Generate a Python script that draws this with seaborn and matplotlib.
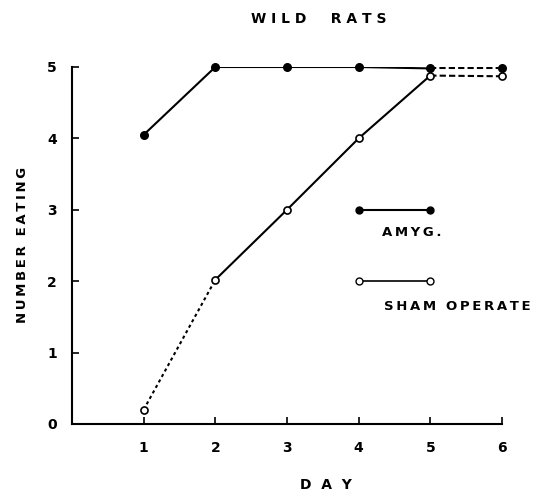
import matplotlib
matplotlib.use("Agg")
import matplotlib.pyplot as plt
import seaborn as sns
import pandas as pd

days = [1, 2, 3, 4, 5, 6]
amyg = [4.05, 5.0, 5.0, 5.0, 4.98, 4.98]
sham = [0.2, 2.02, 3.0, 4.0, 4.88, 4.87]
y_ticks = [0, 1, 2, 3, 4, 5]

sns.set_theme(style="ticks")
plt.rcParams['font.family'] = ['DejaVu Sans']
plt.rcParams['text.color'] = 'black'

fig = plt.figure(figsize=(5.47, 4.97), dpi=100)
ax = fig.add_axes([0.1316, 0.1469, 0.786, 0.7183])

df = pd.DataFrame({"day": days, "amyg": amyg, "sham": sham})

def seg(col, i0, i1, ls, lw=1.5):
    sub = df.iloc[i0:i1 + 1]
    sns.lineplot(data=sub, x="day", y=col, ax=ax, color="black", lw=lw,
                 linestyle=ls, estimator=None, sort=False, legend=False)

# AMYG: solid 1-5, dashed 5-6
seg("amyg", 0, 4, "-")
seg("amyg", 4, 5, (0, (3, 1.5)))
# SHAM: dotted 1-2, solid 2-5, dashed 5-6
seg("sham", 0, 1, (0, (1.5, 1.5)))
seg("sham", 1, 4, "-")
seg("sham", 4, 5, (0, (3, 1.5)))

sns.scatterplot(x=days, y=amyg, ax=ax, color="black", s=30, edgecolor="black",
                linewidth=1, zorder=5, clip_on=False, legend=False)
sns.scatterplot(x=days, y=sham, ax=ax, color="white", s=26, edgecolor="black",
                linewidth=1.2, zorder=5, clip_on=False, legend=False)

ax.set_xlim(0, 6)
ax.set_ylim(0, 5)
ax.set_xticks(days)
ax.set_yticks(y_ticks)
ax.set_xticklabels([str(d) for d in days], fontsize=10, fontweight="bold", color="black")
ax.set_yticklabels([str(t) for t in y_ticks], fontsize=10, fontweight="bold", color="black")
ax.tick_params(direction="in", length=5, width=1.2, colors="black")
ax.tick_params(axis="y", pad=11)
ax.tick_params(axis="x", pad=12)
for s in ["top", "right"]:
    ax.spines[s].set_visible(False)
for s in ["left", "bottom"]:
    ax.spines[s].set_linewidth(1.5)
    ax.spines[s].set_color("black")
ax.set_xlabel("")
ax.set_ylabel("")

def spaced(t):
    return "\u2009".join(t)

fig.text(0.595, 0.024, "D  A  Y", ha="center", va="center",
         fontsize=10, fontweight="bold", color="black")
fig.text(0.042, 0.507, spaced("NUMBER") + "\u2009\u2009 " + spaced("EATING"),
         ha="center", va="center", rotation=90,
         fontsize=9.5, fontweight="bold", color="black")
fig.text(0.583, 0.962, "W I L D     R A T S", ha="center", va="center",
         fontsize=10, fontweight="bold", color="black")

# Manual legend (axes-fraction coordinates)
tr = ax.transAxes
ax.plot([0.667, 0.833], [0.6, 0.6], transform=tr, color="black", lw=1.5,
        marker="o", ms=5, mfc="black", mec="black")
ax.text(0.72, 0.535, spaced("AMYG."), transform=tr, fontsize=9.5, fontweight="bold",
        va="center", ha="left", color="black")
ax.plot([0.667, 0.833], [0.4, 0.4], transform=tr, color="black", lw=1.2,
        marker="o", ms=5, mfc="white", mec="black")
ax.text(0.725, 0.328, spaced("SHAM") + "\u2009\u2009 " + spaced("OPERATE"), transform=tr,
        fontsize=9.5, fontweight="bold", va="center", ha="left", color="black")

fig.savefig("out.png", dpi=100, facecolor="white")
